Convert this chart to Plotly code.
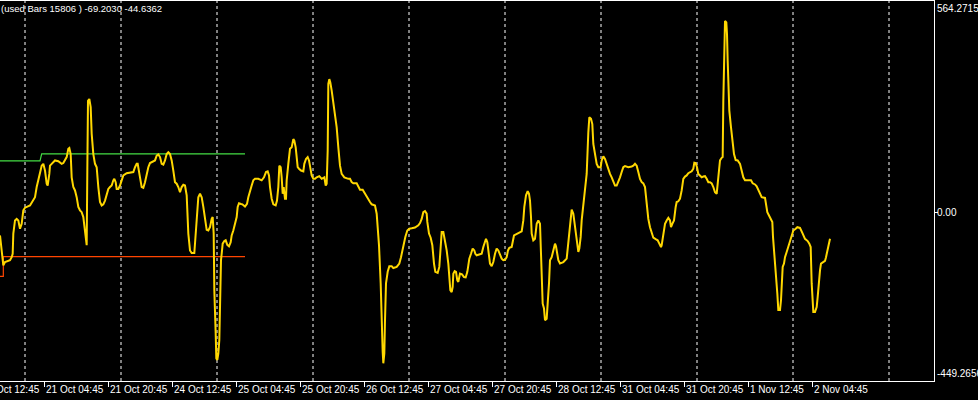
import plotly.graph_objects as go

# ---------------- data ----------------
# x = trading-hour index counted from 20 Oct 12:45 (weekend hours skipped)
hours = [
5.00,5.67,5.83,6.25,7.5,7.92,8.17,8.33,8.75,9.17,9.58,10.0,10.17,10.42,10.83,11.25,12.5,13.33,13.75,14.17,
14.58,15.0,15.42,15.83,16.25,16.67,16.92,17.33,17.5,17.92,18.75,19.58,20.42,20.83,21.67,22.08,22.33,22.67,22.92,23.33,
23.75,24.17,24.58,25.0,25.42,25.83,26.25,26.5,26.67,26.83,27.0,27.33,27.67,27.92,28.33,28.75,29.17,29.58,30.0,30.42,
30.83,31.25,31.67,32.08,32.5,32.92,33.33,33.58,33.92,34.17,34.58,35.0,35.42,35.83,36.67,37.5,38.33,38.75,39.17,39.42,
39.67,40.0,40.42,40.83,41.25,41.67,42.08,42.5,43.33,43.75,44.17,44.58,45.0,45.42,45.83,46.25,46.67,47.08,47.5,47.92,
48.33,48.75,49.17,49.58,50.0,50.42,50.83,51.25,51.67,52.08,
52.5,52.92,53.58,53.92,54.17,54.58,55.0,55.42,55.83,56.25,56.67,57.08,57.5,57.92,58.17,58.42,58.58,58.92,59.08,59.33,
59.58,59.83,60.0,60.25,60.42,60.67,61.08,61.42,61.83,62.25,62.67,62.92,63.33,63.75,64.17,64.42,64.75,65.25,65.58,66.25,
66.75,67.08,67.5,67.92,68.33,68.75,69.58,70.42,71.0,71.5,71.92,72.25,72.5,72.92,73.33,73.92,74.25,74.58,74.83,75.17,
75.42,75.67,75.92,76.25,76.5,76.67,77.08,77.5,77.92,78.33,78.58,78.92,79.17,79.42,79.75,80.25,80.83,81.08,81.5,81.92,
82.25,82.5,82.92,83.33,83.75,84.17,84.83,85.42,86.08,86.42,86.67,86.92,87.08,87.33,87.58,87.92,88.33,88.75,89.17,89.58,
90.0,90.42,91.08,92.08,92.5,92.92,93.33,94.17,94.58,95.0,95.67,96.25,96.67,97.08,97.5,97.92,98.75,
99.17,99.42,99.75,100.17,100.42,100.67,100.83,101.08,101.25,101.5,101.92,102.33,102.92,103.33,104.17,104.83,105.25,105.67,106.0,106.33,
106.83,107.33,107.92,108.75,109.58,110.0,110.42,110.83,111.25,111.67,111.83,112.25,112.67,113.08,113.5,113.83,114.42,114.83,115.17,115.42,
115.83,116.17,116.67,117.08,117.33,117.58,117.92,118.17,118.33,118.67,119.0,119.33,119.58,120.0,120.5,121.0,121.42,121.83,122.08,122.33,
122.75,123.17,123.58,123.83,124.17,125.0,125.42,125.83,126.25,126.5,126.83,127.08,127.5,127.92,128.33,128.75,129.17,129.58,130.0,130.42,
130.83,131.25,131.67,132.0,132.33,132.92,133.5,134.0,134.58,135.42,135.83,136.08,136.5,136.92,137.25,137.5,137.75,137.92,138.33,138.75,
139.17,139.58,140.0,140.25,140.42,140.67,141.0,141.25,141.67,141.92,142.25,142.5,142.92,143.33,143.75,144.0,
144.58,145.0,145.83,146.67,147.08,147.5,147.92,148.33,148.75,149.17,149.58,149.83,150.17,150.42,150.83,151.25,151.67,152.08,152.33,152.75,
153.08,153.33,153.75,154.17,154.58,155.17,155.42,155.83,156.25,156.67,157.08,157.5,157.92,158.33,158.75,159.17,159.58,160.0,160.42,160.83,
161.25,162.08,162.92,163.33,163.75,164.17,164.58,165.0,165.42,165.83,166.25,166.5,166.83,167.08,167.5,167.92,168.33,168.92,169.42,169.83,
170.25,170.42,170.83,171.25,171.67,172.08,172.5,172.75,173.08,173.5,173.92,174.17,174.58,175.0,175.42,175.83,176.25,176.67,177.08,177.92,
178.33,178.58,178.92,179.25,179.58,180.0,180.42,180.83,181.25,181.67,182.08,182.5,182.92,183.33,183.75,184.17,184.42,184.75,185.0,185.42,
185.67,185.83,186.0,186.25,186.58,186.75,186.92,187.08,187.33,187.75,188.08,188.5,188.92,189.42,190.0,
190.42,190.83,191.25,192.08,192.75,193.17,193.75,194.17,194.58,195.0,195.42,196.25,196.5,196.83,197.25,197.67,198.08,198.25,198.5,198.75,
199.0,199.33,199.58,200.0,200.25,200.42,200.67,201.0,201.25,201.67,202.08,202.5,202.92,203.33,203.92,204.33,205.0,205.25,205.67,206.25,
206.92,207.33,207.67,207.92,208.17,208.33,208.75,209.17,209.42,209.67,210.0,210.25,210.83,211.25,211.5,211.83,212.17,212.5,
]
values = [
-61,-119,-141,-132,-127,-119,-110,-56,-21,-17,-21,-43,-39,-30,6,13,19,32,41,68,
86,112,125,130,112,77,72,103,125,130,139,137,130,132,148,170,172,156,94,68,
59,41,15,6,1,-12,-56,-87,-87,112,298,303,281,210,156,130,121,68,28,19,
22,32,46,63,68,72,86,90,81,63,63,72,86,99,105,107,108,121,130,130,
117,94,68,66,81,103,121,132,136,139,152,155,148,130,128,139,156,161,156,139,
112,81,77,68,54,68,74,72,46,-56,
-101,-108,-108,-56,-12,41,50,41,15,-21,-46,-48,-39,-17,-12,-56,-207,-322,-389,-393,
-376,-340,-216,-127,-110,-83,-76,-74,-86,-90,-79,-61,-48,-30,-12,15,25,23,22,16,
23,41,59,72,86,90,90,86,94,108,110,99,68,37,22,19,32,68,125,121,
94,50,68,37,37,86,130,170,174,196,192,174,148,121,117,112,110,130,143,148,
139,121,99,90,90,94,97,90,94,72,77,165,343,356,347,325,294,263,227,174,
125,103,94,90,90,81,78,78,68,61,61,50,41,37,28,22,19,
-3,-39,-87,-189,-309,-371,-402,-376,-287,-189,-158,-143,-143,-148,-145,-136,-119,-96,-83,-65,
-48,-43,-42,-40,-34,-28,-17,1,4,-3,-25,-56,-67,-87,-136,-158,-161,-145,-92,-52,
-52,-70,-101,-136,-181,-207,-212,-198,-163,-156,-158,-181,-185,-163,-165,-172,-173,-158,-141,-123,
-110,-96,-101,-110,-114,-111,-110,-92,-79,-70,-79,-96,-136,-143,-132,-110,-96,-101,-114,-123,
-127,-126,-119,-101,-94,-92,-61,-58,-56,-50,-21,15,46,57,50,32,-12,-56,-74,-70,
-30,-21,-30,-101,-172,-243,-256,-287,-283,-252,-189,-127,-119,-101,-83,-90,
-127,-136,-132,-123,-74,-21,8,-3,-39,-70,-105,-96,-65,-21,15,50,103,214,254,250,
236,183,156,130,121,121,139,150,143,130,112,103,94,81,72,72,81,94,108,121,
124,121,123,125,130,125,108,90,81,78,68,41,15,-17,-39,-56,-67,-71,-74,-83,
-92,-87,-56,-30,-21,-14,-21,-39,-30,-21,15,28,30,37,59,90,96,99,105,110,
117,133,132,121,103,99,94,96,97,90,81,81,78,68,54,50,81,103,139,146,
148,298,414,511,507,476,405,334,272,227,192,156,140,139,130,
110,94,86,87,86,78,75,70,59,50,41,39,23,1,-8,-17,-25,-65,-96,-123,
-163,-216,-260,-260,-234,-198,-145,-136,-119,-105,-92,-79,-61,-48,-43,-39,-41,-48,-56,-70,
-76,-83,-92,-189,-252,-265,-265,-252,-225,-181,-154,-136,-132,-129,-119,-103,-89,-70,
]

upper_hours = [5.0, 15.0, 15.42, 66.25]
upper_values = [137.8, 137.8, 156.5, 156.5]
lower_hours = [5.0, 5.83, 5.83, 66.25]
lower_values = [-170.0, -170.0, -117.5, -117.5]

label_hours = [0, 16, 32, 48, 64, 80, 96, 112, 128, 144, 160, 176, 192, 208]
label_texts = ["20 Oct 12:45", "21 Oct 04:45", "21 Oct 20:45", "24 Oct 12:45", "25 Oct 04:45",
               "25 Oct 20:45", "26 Oct 12:45", "27 Oct 04:45", "27 Oct 20:45", "28 Oct 12:45",
               "31 Oct 04:45", "31 Oct 20:45", "1 Nov 12:45", "2 Nov 04:45"]
day_separators = [11.25, 35.25, 59.25, 83.25, 107.25, 131.25, 155.25, 179.25, 203.25, 227.25]

y_max = 564.2715
y_min = -449.2656
x_range = [5, 238.5]
header_text = "(used Bars 15806 ) -69.2030 -44.6362"

# ---------------- figure ----------------
FONT = "Liberation Sans, Arial, sans-serif"
fig = go.Figure()

fig.add_trace(go.Scatter(x=upper_hours, y=upper_values, mode="lines",
                         line=dict(color="#44DD44", width=1.2), hoverinfo="skip"))
fig.add_trace(go.Scatter(x=lower_hours, y=lower_values, mode="lines",
                         line=dict(color="#FF4500", width=1.2), hoverinfo="skip"))
fig.add_trace(go.Scatter(x=hours, y=values, mode="lines",
                         line=dict(color="#FFD700", width=2)))

for h in day_separators:
    fig.add_shape(type="line", xref="x", yref="paper", x0=h, x1=h, y0=0, y1=1,
                  line=dict(color="white", width=1, dash="3px,3px"), layer="below")

span = x_range[1] - x_range[0]
for h, t in zip(label_hours, label_texts):
    fig.add_annotation(xref="paper", yref="paper", x=(h - x_range[0]) / span, y=0,
                       xanchor="left", yanchor="top", yshift=-1, xshift=0, showarrow=False,
                       text=t, font=dict(family=FONT, size=10, color="white"))

for val, txt, anc in [(y_max, "564.2715", "top"), (0, "0.00", "middle"), (y_min, "-449.2656", "bottom")]:
    fig.add_annotation(xref="paper", yref="y", x=1, y=val, xanchor="left", yanchor=anc,
                       xshift=1, showarrow=False, text=txt,
                       font=dict(family=FONT, size=10, color="white"))

fig.add_annotation(xref="paper", yref="paper", x=0, y=1, xanchor="left", yanchor="top",
                   showarrow=False, text=header_text, yshift=0, xshift=-1,
                   font=dict(family=FONT, size=9.5, color="white"))

fig.update_layout(
    width=978, height=400,
    paper_bgcolor="black", plot_bgcolor="black",
    margin=dict(l=0, r=44, t=1, b=19),
    showlegend=False,
    xaxis=dict(range=x_range, showgrid=False, zeroline=False, showline=True, mirror=True,
               linecolor="white", linewidth=1, tickvals=label_hours, ticks="outside",
               ticklen=5, tickcolor="white", showticklabels=False, fixedrange=True),
    yaxis=dict(range=[y_min, y_max], side="right", showgrid=False, zeroline=False,
               showline=True, linecolor="white", linewidth=1, tickvals=[0], ticks="outside",
               ticklen=3, tickcolor="white", showticklabels=False, fixedrange=True),
)

fig.write_html("out.html", config={"displayModeBar": False},
               post_script="document.body.style.margin='0';document.body.style.padding='0';document.body.style.background='black';")
